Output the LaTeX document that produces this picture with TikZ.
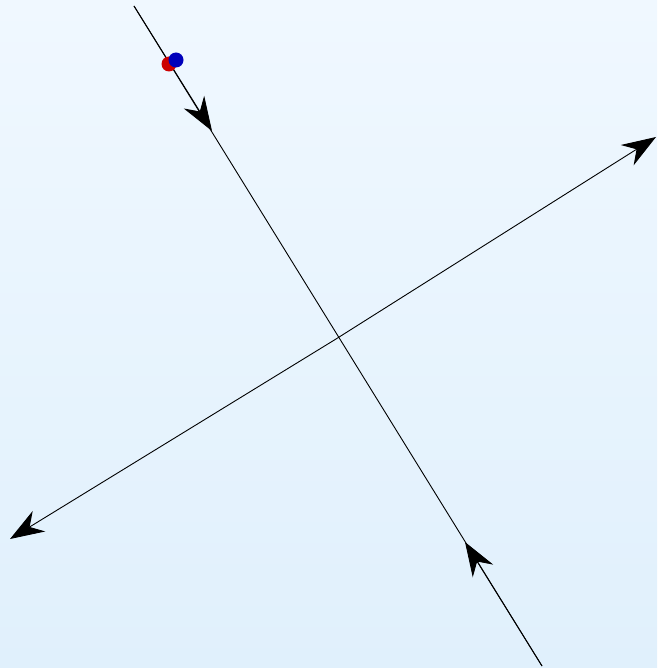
\documentclass[tikz,border=0pt]{standalone}
\usetikzlibrary{arrows.meta}
\definecolor{bgtop}{HTML}{F0F8FF}
\definecolor{bgbot}{HTML}{E0F0FC}
\definecolor{dotred}{HTML}{CC0000}
\definecolor{dotblue}{HTML}{0000BB}
\tikzset{
  axis/.style={line width=0.9pt, black},
  tipped/.style={axis, -{Stealth[length=34pt, width=24pt, inset=11pt]}},
  dot/.style={circle, inner sep=0pt, minimum size=15pt}
}
\begin{document}
\begin{tikzpicture}[x=1pt, y=-1pt]
  \shade[top color=bgtop, bottom color=bgbot] (0,0) rectangle (657,668);
  \useasboundingbox (0,0) rectangle (657,668);
  % line 1
  \coordinate (a1) at (134,6);
  \coordinate (a2) at (542,666);
  \coordinate (m1) at (212,131);
  \coordinate (m2) at (465,542);
  \draw[axis] (a1) -- (a2);
  \draw[tipped] (a1) -- (m1);
  \draw[tipped] (a2) -- (m2);
  % line 2
  \coordinate (c) at (336,339);
  \coordinate (b1) at (656,137);
  \coordinate (b2) at (10,539);
  \draw[tipped] (c) -- (b1);
  \draw[tipped] (c) -- (b2);
  % dots
  \node[dot, fill=dotred] (r) at (169,64) {};
  \node[dot, fill=dotblue] (bl) at (176,60) {};
\end{tikzpicture}
\end{document}
